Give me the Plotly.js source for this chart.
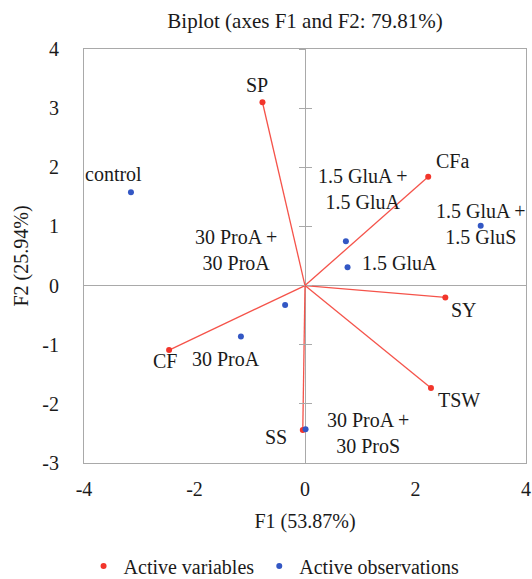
<!DOCTYPE html>
<html>
<head>
<meta charset="utf-8">
<script src="https://cdn.plot.ly/plotly-3.0.1.min.js"></script>
<style>html,body{margin:0;padding:0;background:#fff;}#chart{width:532px;height:579px;}</style>
</head>
<body>
<div id="chart"></div>
<script>
// Active variables (F1, F2 coordinates)
const varNames = ['SP', 'CFa', 'SY', 'TSW', 'SS', 'CF'];
const varF1 = [-0.77, 2.23, 2.54, 2.28, -0.04, -2.46];
const varF2 = [3.10, 1.84, -0.20, -1.73, -2.44, -1.09];

// Active observations (F1, F2 coordinates)
const obsNames = ['control', '1.5 GluA +<br>1.5 GluA', '1.5 GluA +<br>1.5 GluS', '1.5 GluA',
                  '30 ProA +<br>30 ProA', '30 ProA', '30 ProA +<br>30 ProS'];
const obsF1 = [-3.15, 0.74, 3.18, 0.77, -0.36, -1.16, 0.01];
const obsF2 = [1.58, 0.75, 1.01, 0.31, -0.33, -0.86, -2.43];

// Axis ticks
const xTicks = [-4, -2, 0, 2, 4];
const yTicks = [-3, -2, -1, 0, 1, 2, 3, 4];

// label pixel offsets (style)
const varDx = [-5, 24, 19, 28, -27, -4];
const varDy = [-17, -16, 13, 12, 7, 11];
const obsDx = [-17, 17, 0, 52, -49, -15, 62];
const obsDy = [-18, -52, -2, -4, -55, 23, 4];

const RED = '#f2352b';
const LINERED = '#f5534a';
const BLUE = '#3357c4';
const GRAY = '#a9a9a9';
const FONT = 'Liberation Serif';
const FS = 20;

// vectors from origin
const segX = [], segY = [];
varF1.forEach((v, i) => { segX.push(0, v, null); segY.push(0, varF2[i], null); });

const traces = [
  {x: segX, y: segY, mode: 'lines', line: {color: LINERED, width: 1.3},
   showlegend: false, hoverinfo: 'skip'},
  {x: varF1, y: varF2, mode: 'markers', name: 'Active variables',
   marker: {color: RED, size: 6}, text: varNames},
  {x: obsF1, y: obsF2, mode: 'markers', name: 'Active observations',
   marker: {color: BLUE, size: 6}, text: obsNames},
  {x: [], y: [], yaxis: 'y2', showlegend: false, hoverinfo: 'skip', mode: 'markers'},
  {x: [], y: [], yaxis: 'y3', showlegend: false, hoverinfo: 'skip', mode: 'markers'}
];

const annotations = [];
varNames.forEach((n, i) => annotations.push({
  x: varF1[i], y: varF2[i], xref: 'x', yref: 'y', text: n, showarrow: false,
  xshift: varDx[i], yshift: -varDy[i], font: {family: FONT, size: FS, color: '#1a1a1a'}
}));
obsNames.forEach((n, i) => annotations.push({
  x: obsF1[i], y: obsF2[i], xref: 'x', yref: 'y', text: n, showarrow: false, align: 'center',
  xshift: obsDx[i], yshift: -obsDy[i], font: {family: FONT, size: FS, color: '#1a1a1a'}
}));

const tickAxis = (side) => ({
  overlaying: 'y', anchor: 'free', position: 0.5, range: [-3, 4],
  tickvals: yTicks, ticks: side, ticklen: 6, tickcolor: GRAY, tickwidth: 1,
  showticklabels: false, showline: false, showgrid: false, zeroline: false, fixedrange: true
});

const layout = {
  width: 532, height: 579,
  margin: {l: 84, r: 6, t: 49, b: 116},
  paper_bgcolor: '#fff', plot_bgcolor: '#fff',
  font: {family: FONT, size: FS, color: '#1a1a1a'},
  title: {text: 'Biplot (axes F1 and F2: 79.81%)', xref: 'paper', x: 0.5, xanchor: 'center',
          yref: 'container', y: 0.965, yanchor: 'middle', font: {family: FONT, size: 21, color: '#1a1a1a'}},
  xaxis: {range: [-4, 4], tickvals: xTicks, ticktext: xTicks.map(String), showgrid: false,
          zeroline: true, zerolinecolor: GRAY, zerolinewidth: 1,
          showline: true, mirror: true, linecolor: GRAY, linewidth: 1, ticks: '',
          ticklabelstandoff: 8,
          title: {text: 'F1 (53.87%)', standoff: 14, font: {family: FONT, size: FS}}},
  yaxis: {range: [-3, 4], tickvals: yTicks, ticktext: yTicks.map(String), showgrid: false,
          zeroline: true, zerolinecolor: GRAY, zerolinewidth: 1,
          showline: true, mirror: true, linecolor: GRAY, linewidth: 1, ticks: '',
          ticklabelstandoff: 20,
          title: {text: 'F2 (25.94%)', standoff: 8, font: {family: FONT, size: FS}}},
  yaxis2: tickAxis('outside'),
  yaxis3: tickAxis('inside'),
  showlegend: true,
  legend: {orientation: 'h', xref: 'paper', x: 0.43, xanchor: 'center',
           yref: 'container', y: 0.056, yanchor: 'top', itemwidth: 30,
           font: {family: FONT, size: FS, color: '#1a1a1a'}},
  annotations: annotations
};

Plotly.newPlot('chart', traces, layout, {displayModeBar: false, staticPlot: true});
</script>
</body>
</html>
